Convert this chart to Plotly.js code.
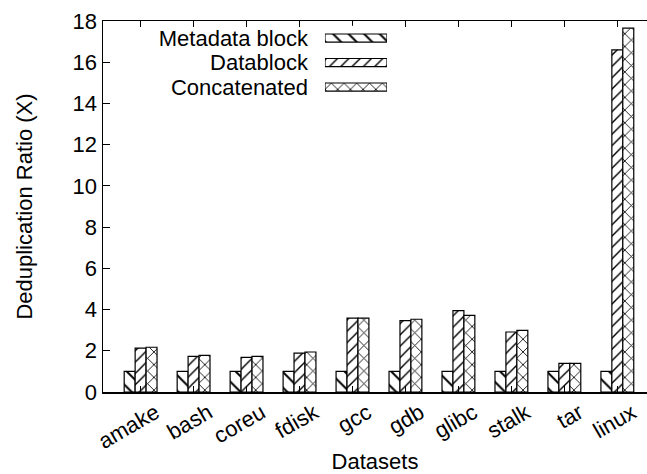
<!DOCTYPE html>
<html>
<head>
<meta charset="utf-8">
<script src="https://cdn.plot.ly/plotly-3.0.1.min.js"></script>
<style>html,body{margin:0;padding:0;background:#fff;}#chart{width:647px;height:474px;}</style>
</head>
<body>
<div id="chart"></div>
<script>
const datasets = ['amake','bash','coreu','fdisk','gcc','gdb','glibc','stalk','tar','linux'];
const metadataBlock = [1,1,1,1,1,1,1,1,1,1];
const dataBlock = [2.13,1.73,1.68,1.89,3.58,3.46,3.95,2.91,1.39,16.6];
const concatenated = [2.17,1.78,1.73,1.94,3.58,3.53,3.72,2.99,1.39,17.65];
const seriesNames = ['Metadata block','Datablock','Concatenated'];
const seriesPatterns = ['\\','/','x'];
const patternSizes = [11,8,9];
const legendUnit = [1,1,1];

const FONT = 'Liberation Sans, Arial, Helvetica, sans-serif';
function barTrace(name, vals, i){
  return {
    type:'bar', name:name, x:datasets, y:vals, xaxis:'x', yaxis:'y',
    marker:{color:'#fff', line:{color:'#000', width:1.2},
      pattern:{shape:seriesPatterns[i], size:patternSizes[i], solidity:0.18, fgcolor:'#000', bgcolor:'#fff', fillmode:'replace'}},
    showlegend:false, hoverinfo:'skip'
  };
}
const traces = [
  barTrace(seriesNames[0], metadataBlock, 0),
  barTrace(seriesNames[1], dataBlock, 1),
  barTrace(seriesNames[2], concatenated, 2),
  {
    type:'bar', orientation:'h', x:legendUnit, y:seriesNames, xaxis:'x2', yaxis:'y2', width:0.33,
    marker:{color:'#fff', line:{color:'#000', width:1.2},
      pattern:{shape:seriesPatterns, size:patternSizes, solidity:0.18, fgcolor:'#000', bgcolor:'#fff', fillmode:'replace'}},
    showlegend:false, hoverinfo:'skip'
  }
];
const layout = {
  width:647, height:474,
  margin:{l:103, r:0, t:21, b:82},
  paper_bgcolor:'#fff', plot_bgcolor:'#fff',
  font:{family:FONT, size:22, color:'#000'},
  barmode:'group', bargap:0.38, bargroupgap:0,
  showlegend:false,
  xaxis:{
    type:'category', range:[-0.71, 9.56],
    showline:true, linecolor:'#000', linewidth:1.5, mirror:'ticks',
    ticks:'inside', ticklen:6, tickcolor:'#000',
    tickangle:-30, ticklabelshift:15, ticklabelstandoff:-2,
    showgrid:false, zeroline:false,
    title:{text:'Datasets', font:{size:22}, standoff:2}
  },
  yaxis:{
    range:[0,18], dtick:2, tick0:0,
    showline:true, linecolor:'#000', linewidth:1.5, mirror:false,
    ticks:'inside', ticklen:7, tickcolor:'#000',
    showgrid:false, zeroline:false,
    title:{text:'Deduplication Ratio (X)', font:{size:22}, standoff:34}
  },
  xaxis2:{domain:[0.408,0.522], anchor:'y2', range:[0,1], visible:false, fixedrange:true},
  yaxis2:{domain:[0.789,0.987], anchor:'x2', type:'category', range:[2.5,-0.5],
    tickmode:'array', tickvals:seriesNames, ticktext:seriesNames,
    showline:false, showgrid:false, zeroline:false, ticks:'', ticklabelstandoff:16,
    tickfont:{size:22}}
};
Plotly.newPlot('chart', traces, layout, {staticPlot:true, displayModeBar:false});
</script>
</body>
</html>
